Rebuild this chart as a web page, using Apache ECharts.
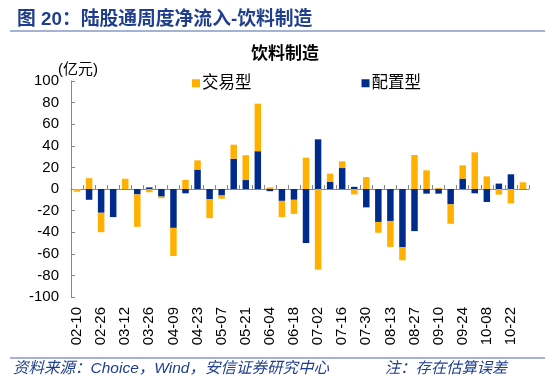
<!DOCTYPE html>
<html>
<head>
<meta charset="utf-8">
<script src="https://cdn.jsdelivr.net/npm/echarts@6/dist/echarts.min.js"></script>
<style>html,body{margin:0;padding:0;background:#fff;}#c{width:550px;height:385px;}</style>
</head>
<body>
<div id="c"></div>
<script>
const categories = ['02-10','02-19','02-26','03-04','03-12','03-19','03-26','04-02','04-09','04-16','04-23','04-30','05-07','05-14','05-21','05-28','06-04','06-11','06-18','06-25','07-02','07-09','07-16','07-23','07-30','08-06','08-13','08-20','08-27','09-03','09-10','09-17','09-24','09-30','10-08','10-15','10-22','10-29'];
const peizhi = [0,-10,-22,-26,0,-5,1.5,-7,-36,-4,18,-9.5,-6,28,8.3,35,-2,-11,-10,-50,46,6.5,19.4,2,-17,-30.5,-29.6,-54,-39,-4.3,-4.3,-14.2,9.6,-4,-12,5,13.6,0];
const jiaoyi = [-2.5,10,-18,0,9.5,-30,-3,-1.5,-26,8.5,8.5,-17.5,-3,13,23,44,1.5,-15,-13,29,-74.7,7.7,6.2,-5,11,-10,-24,-12,31.5,17.3,1,-18,12.3,34,11.7,-5.2,-13.3,6.2];
const yTicks = {min: -100, max: 100, interval: 20};

const CN = '"Liberation Sans", "Noto Sans CJK SC", sans-serif';
const blueText = '#1F3E8E';
const chart = echarts.init(document.getElementById('c'), null, {renderer: 'canvas'});
chart.setOption({
  animation: false,
  backgroundColor: '#fff',
  title: [
    {text: '图 20：陆股通周度净流入-饮料制造', left: 12, top: 5,
     textStyle: {fontSize: 18.8, fontWeight: 'bold', color: blueText, fontFamily: CN}},
    {text: '饮料制造', left: 246, top: 41,
     textStyle: {fontSize: 17, fontWeight: 'bold', color: '#000', fontFamily: CN}},
    {text: '(亿元)', left: 53, top: 57,
     textStyle: {fontSize: 15, fontWeight: 'normal', color: '#000', fontFamily: CN}}
  ],
  graphic: [
    {type: 'line', shape: {x1: 10, y1: 31, x2: 545, y2: 31}, style: {stroke: '#4A66AA', lineWidth: 1.2}},
    {type: 'line', shape: {x1: 10, y1: 358, x2: 545, y2: 358}, style: {stroke: '#4A66AA', lineWidth: 1.2}},
    {type: 'text', left: 13, top: 361, style: {text: '资料来源：Choice，Wind，安信证券研究中心', fill: blueText, font: 'italic 15.5px "Liberation Sans", "Noto Sans CJK SC"'}},
    {type: 'text', left: 385, top: 361, style: {text: '注：存在估算误差', fill: blueText, font: 'italic 15.3px "Liberation Sans", "Noto Sans CJK SC"'}}
  ],
  legend: {
    data: ['交易型', '配置型'],
    left: 187, top: 70, itemWidth: 8, itemHeight: 8, itemGap: 110, icon: 'rect',
    textStyle: {fontSize: 16.5, color: '#000', fontFamily: CN, padding: [0,0,0,-3]}
  },
  grid: {left: 71, right: 21, top: 81, bottom: 88},
  xAxis: [
    {type: 'category', data: categories, position: 'bottom',
     axisLine: {show: false, onZero: false}, axisTick: {show: false},
     axisLabel: {interval: 1, rotate: 90, fontSize: 15, color: '#000', margin: 10, fontFamily: CN}},
    {type: 'category', data: categories, position: 'bottom',
     axisLine: {show: true, onZero: true, lineStyle: {color: '#888', width: 1}},
     axisTick: {show: true, inside: true, interval: 0, length: 4, lineStyle: {color: '#888'}},
     axisLabel: {show: false}}
  ],
  yAxis: {
    type: 'value', min: yTicks.min, max: yTicks.max, interval: yTicks.interval,
    splitLine: {show: false},
    axisLine: {show: true, lineStyle: {color: '#888'}},
    axisTick: {show: true, inside: true, length: 4, lineStyle: {color: '#888'}},
    axisLabel: {fontSize: 15, color: '#000', margin: 12, fontFamily: CN}
  },
  series: [
    {name: '配置型', type: 'bar', stack: 'a', data: peizhi, barWidth: 6.5, xAxisIndex: 0,
     itemStyle: {color: '#002B8B'}},
    {name: '交易型', type: 'bar', stack: 'a', data: jiaoyi, barWidth: 6.5, xAxisIndex: 0,
     itemStyle: {color: '#FFB000'}}
  ]
});
</script>
</body>
</html>
